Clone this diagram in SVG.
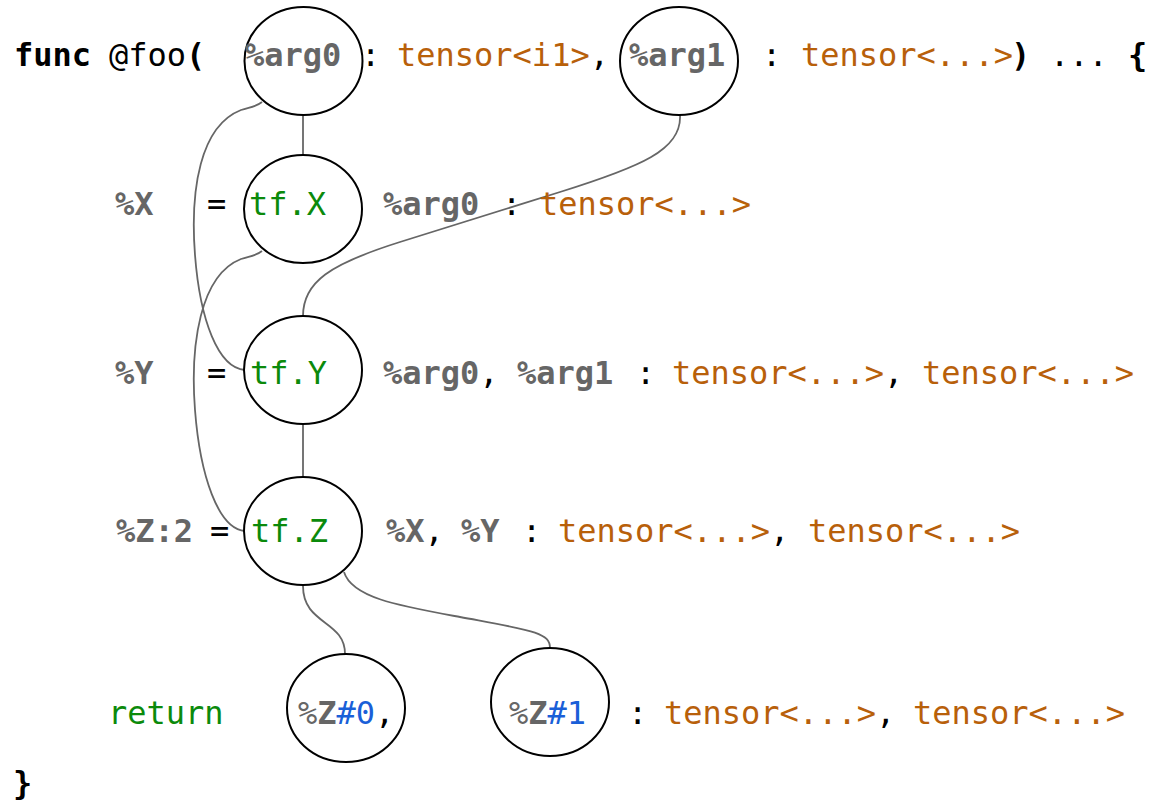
<svg xmlns="http://www.w3.org/2000/svg" width="1159" height="803" viewBox="0 0 1159 803">
  <style>
    text { font-family: "DejaVu Sans Mono", "Liberation Mono", monospace; font-size: 32px; fill: #000; }
    .b { font-weight: bold; }
    .v { fill: #666666; font-weight: bold; }
    .vr { fill: #666666; }
    .ty { fill: #b8600a; }
    .op { fill: #0b8a0b; }
    .ix { fill: #1a5fd8; }
    .node { fill: none; stroke: #000; stroke-width: 2; }
    .edge { fill: none; stroke: #666666; stroke-width: 1.8; }
  </style>

  <rect width="1159" height="803" fill="#ffffff"/>

  <!-- use-def edges -->
  <g id="connectors">
    <path class="edge" d="M303,115 L303,156"/>
    <path class="edge" d="M262,102 C256,107 250,107 241,110 C200,126 190,190 195,255 C200,320 218,368 245,370"/>
    <path class="edge" d="M262,251 C256,256 250,256 241,259 C200,275 190,345 195,410 C200,475 218,529 245,531"/>
    <path class="edge" d="M680,115 C682,150 640,167 560,192 L400,242 C330,264 303,282 303,316"/>
    <path class="edge" d="M303,424 L303,477"/>
    <path class="edge" d="M303,586 C303,625 345,620 345,654"/>
    <path class="edge" d="M344,572 C352,598 400,606 460,617 C530,630 550,632 550,648"/>
  </g>

  <!-- function signature -->
  <g id="line-signature">
    <text x="14" y="66" class="b">func</text>
    <text x="109" y="66">@foo<tspan class="b">(</tspan></text>
    <text x="361" y="66">:</text>
    <text x="397" y="66"><tspan class="ty">tensor&lt;i1&gt;</tspan>,</text>
    <text x="762" y="66">:</text>
    <text x="801" y="66" class="ty">tensor&lt;...&gt;</text>
    <text x="1011" y="66" class="b">)</text>
    <text x="1050" y="66">...</text>
    <text x="1128" y="66" class="b">{</text>
  </g>

  <g id="arg0">
    <ellipse class="node" cx="303.5" cy="61" rx="59" ry="54"/>
    <text x="245" y="66" class="v">%arg0</text>
  </g>
  <g id="arg1">
    <ellipse class="node" cx="679" cy="61" rx="59" ry="54"/>
    <text x="629" y="66" class="v">%arg1</text>
  </g>

  <!-- %X = tf.X -->
  <g id="line-x">
    <text x="115" y="215" class="v">%X</text>
    <text x="207" y="215">=</text>
    <text x="383" y="215" class="v">%arg0</text>
    <text x="502" y="215">:</text>
    <text x="539" y="215" class="ty">tensor&lt;...&gt;</text>
  </g>
  <g id="tf-x">
    <ellipse class="node" cx="303" cy="209" rx="59" ry="54"/>
    <text x="249" y="215" class="op">tf.X</text>
  </g>

  <!-- %Y = tf.Y -->
  <g id="line-y">
    <text x="115" y="384" class="v">%Y</text>
    <text x="207" y="384">=</text>
    <text x="383" y="384"><tspan class="v">%arg0</tspan>,</text>
    <text x="517" y="384" class="v">%arg1</text>
    <text x="636" y="384">:</text>
    <text x="672" y="384"><tspan class="ty">tensor&lt;...&gt;</tspan>,</text>
    <text x="922" y="384" class="ty">tensor&lt;...&gt;</text>
  </g>
  <g id="tf-y">
    <ellipse class="node" cx="303" cy="370" rx="59" ry="54"/>
    <text x="250" y="384" class="op">tf.Y</text>
  </g>

  <!-- %Z:2 = tf.Z -->
  <g id="line-z">
    <text x="116" y="542" class="v">%Z:2</text>
    <text x="210" y="542">=</text>
    <text x="386" y="542"><tspan class="v">%X</tspan>,</text>
    <text x="461" y="542" class="v">%Y</text>
    <text x="522" y="542">:</text>
    <text x="558" y="542"><tspan class="ty">tensor&lt;...&gt;</tspan>,</text>
    <text x="808" y="542" class="ty">tensor&lt;...&gt;</text>
  </g>
  <g id="tf-z">
    <ellipse class="node" cx="303" cy="531" rx="59" ry="54"/>
    <text x="251" y="542" class="op">tf.Z</text>
  </g>

  <!-- return -->
  <g id="line-return">
    <text x="108" y="724" class="op">return</text>
    <text x="628" y="724">:</text>
    <text x="664" y="724"><tspan class="ty">tensor&lt;...&gt;</tspan>,</text>
    <text x="913" y="724" class="ty">tensor&lt;...&gt;</text>
  </g>
  <g id="z0">
    <ellipse class="node" cx="346" cy="708" rx="59" ry="54"/>
    <text x="298" y="724"><tspan class="vr">%</tspan><tspan class="v">Z</tspan><tspan class="ix">#0</tspan>,</text>
  </g>
  <g id="z1">
    <ellipse class="node" cx="550" cy="702" rx="59" ry="54"/>
    <text x="509" y="724"><tspan class="vr">%</tspan><tspan class="v">Z</tspan><tspan class="ix">#1</tspan></text>
  </g>

  <g id="line-close">
    <text x="13" y="794" class="b">}</text>
  </g>
</svg>
